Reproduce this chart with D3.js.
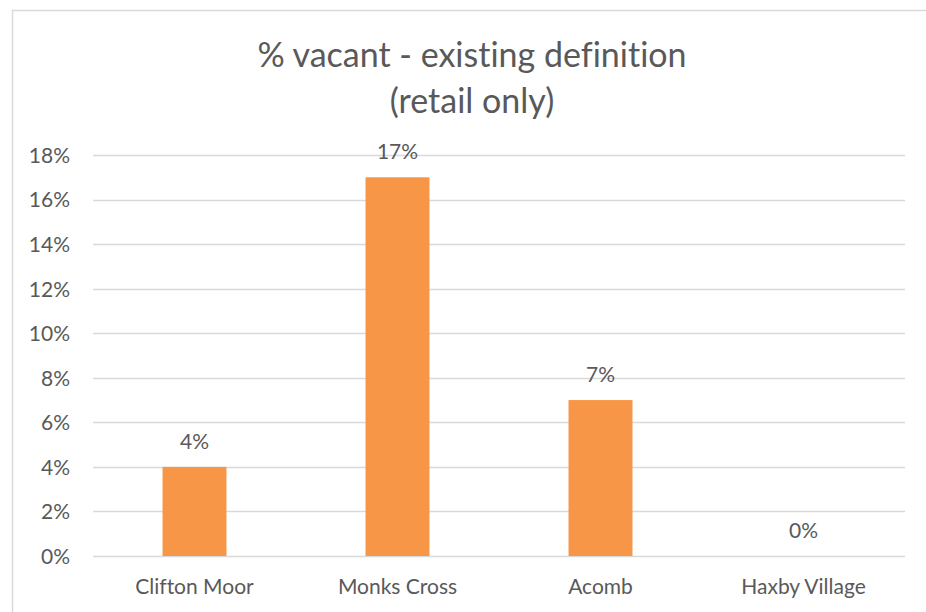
<!DOCTYPE html>
<html>
<head>
<meta charset="utf-8">
<script src="https://cdn.jsdelivr.net/npm/d3@7"></script>
<style>
  body { margin: 0; background: #fff; }
  svg text { font-family: Lato, "Open Sans", sans-serif; fill: #595959; font-variant-ligatures: none; }
</style>
</head>
<body>
<div id="chart"></div>
<script>
// chart data
const categories = ['Clifton Moor', 'Monks Cross', 'Acomb', 'Haxby Village'];
const values = [0.04, 0.17, 0.07, 0];
const yTicks = [0, 0.02, 0.04, 0.06, 0.08, 0.10, 0.12, 0.14, 0.16, 0.18];
const titleLines = ['% vacant - existing definition', '(retail only)'];

const width = 926, height = 612;
const margin = { top: 155, right: 21, bottom: 56, left: 93 };
const labelSize = 21;

const svg = d3.select('#chart')
  .append('svg')
  .attr('width', width)
  .attr('height', height);

// outer chart border (only top and left fall inside the picture)
svg.append('rect')
  .attr('x', 12.5)
  .attr('y', 10.5)
  .attr('width', width)
  .attr('height', height)
  .attr('fill', 'none')
  .attr('stroke', '#d9d9d9')
  .attr('stroke-width', 1.5);

const x = d3.scaleBand()
  .domain(categories)
  .range([margin.left, width - margin.right])
  .paddingInner(0.685)
  .paddingOuter(0.3425);

const y = d3.scaleLinear()
  .domain([0, 0.18])
  .range([height - margin.bottom, margin.top]);

// gridlines
svg.append('g')
  .selectAll('line')
  .data(yTicks)
  .enter()
  .append('line')
  .attr('x1', margin.left)
  .attr('x2', width - margin.right)
  .attr('y1', d => Math.round(y(d)) + 0.5)
  .attr('y2', d => Math.round(y(d)) + 0.5)
  .attr('stroke', '#d9d9d9')
  .attr('stroke-width', 1.5);

// y axis labels
const yAxis = d3.axisLeft(y)
  .tickValues(yTicks)
  .tickFormat(d3.format('.0%'))
  .tickSize(0)
  .tickPadding(23);

svg.append('g')
  .attr('transform', `translate(${margin.left},0)`)
  .call(yAxis)
  .call(g => g.select('.domain').remove())
  .selectAll('text')
  .attr('font-size', labelSize)
  .attr('dy', '0.35em');

// bars
svg.append('g')
  .selectAll('rect')
  .data(values)
  .enter()
  .append('rect')
  .attr('x', (d, i) => x(categories[i]))
  .attr('width', x.bandwidth())
  .attr('y', d => y(d))
  .attr('height', d => y(0) - y(d))
  .attr('fill', '#f79646');

// data labels
svg.append('g')
  .selectAll('text')
  .data(values)
  .enter()
  .append('text')
  .attr('x', (d, i) => x(categories[i]) + x.bandwidth() / 2)
  .attr('y', d => y(d) - 18)
  .attr('text-anchor', 'middle')
  .attr('font-size', labelSize)
  .text(d => d3.format('.0%')(d));

// x axis labels
const xAxis = d3.axisBottom(x).tickSize(0).tickPadding(23);
svg.append('g')
  .attr('transform', `translate(0,${height - margin.bottom})`)
  .call(xAxis)
  .call(g => g.select('.domain').remove())
  .selectAll('text')
  .attr('font-size', labelSize);

// title
svg.append('g')
  .selectAll('text')
  .data(titleLines)
  .enter()
  .append('text')
  .attr('x', 472)
  .attr('y', (d, i) => 67 + i * 46)
  .attr('text-anchor', 'middle')
  .attr('font-size', 34)
  .text(d => d);
</script>
</body>
</html>
